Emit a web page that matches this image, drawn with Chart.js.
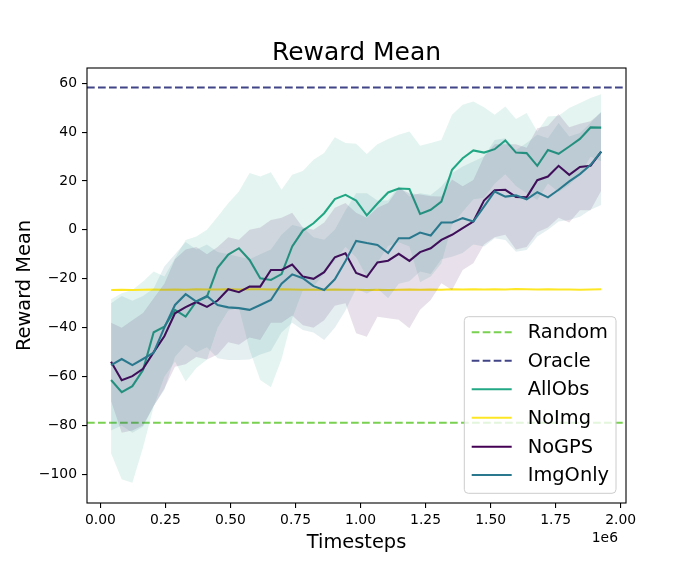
<!DOCTYPE html>
<html><head><meta charset="utf-8">
<script src="https://cdn.jsdelivr.net/npm/chart.js@4.4.1/dist/chart.umd.min.js"></script>
<style>html,body{margin:0;padding:0;background:#fff;}#wrap{width:695px;height:566px;}</style>
</head><body><div id="wrap"><canvas id="c" width="695" height="566"></canvas></div>
<script>
const timesteps = [40960, 81920, 122880, 163840, 204800, 245760, 286720, 327680, 368640, 409600,
  450560, 491520, 532480, 573440, 614400, 655360, 696320, 737280, 778240, 819200,
  860160, 901120, 942080, 983040, 1024000, 1064960, 1105920, 1146880, 1187840, 1228800,
  1269760, 1310720, 1351680, 1392640, 1433600, 1474560, 1515520, 1556480, 1597440, 1638400,
  1679360, 1720320, 1761280, 1802240, 1843200, 1884160, 1925120];

const allObsMean = [-61.4, -66.4, -63.9, -57.3, -41.9, -39.6, -32.7, -35.5, -29.3, -27.3,
  -15.5, -10.1, -7.5, -12.3, -19.8, -20.5, -18.1, -6.8, -0.3, 2.7,
  6.8, 12.6, 14.3, 12.0, 5.9, 10.8, 15.3, 16.9, 16.7, 6.5,
  8.2, 11.6, 24.6, 29.3, 32.5, 31.6, 33.0, 36.6, 31.6, 31.4,
  26.2, 32.7, 31.1, 34.1, 37.2, 41.9, 41.8];
const allObsUpper = [-28.4, -25.9, -24.6, -21.1, -17.0, -19.1, -11.6, -4.1, -2.7, 0.0,
  5.4, 10.9, 15.7, 23.3, 21.8, 23.6, 16.4, 22.5, 24.1, 28.7,
  31.4, 37.9, 35.5, 35.2, 31.0, 35.0, 37.2, 38.9, 40.2, 34.4,
  35.5, 36.8, 47.1, 51.2, 52.5, 50.1, 47.1, 50.5, 45.3, 47.8,
  40.2, 46.4, 46.7, 49.8, 51.9, 53.9, 55.5];
const allObsLower = [-91.4, -102.0, -103.4, -89.0, -72.3, -60.1, -53.8, -62.0, -56.5, -53.0,
  -40.0, -33.0, -32.0, -49.0, -61.4, -64.4, -52.8, -36.1, -24.7, -23.3,
  -17.8, -12.7, -6.9, -11.2, -19.2, -13.4, -6.6, -5.1, -6.8, -21.4,
  -19.1, -13.6, 2.1, 7.4, 12.5, 13.1, 18.9, 22.7, 17.9, 15.0,
  12.2, 19.0, 15.5, 18.4, 22.5, 29.9, 28.1];

const noImgMean = [-24.6, -24.5, -24.6, -24.5, -24.4, -24.5, -24.4, -24.5, -24.3, -24.4,
  -24.4, -24.3, -24.4, -24.3, -24.3, -24.4, -24.3, -24.4, -24.5, -24.4,
  -24.5, -24.4, -24.5, -24.5, -24.6, -24.5, -24.6, -24.5, -24.4, -24.5,
  -24.4, -24.5, -24.3, -24.4, -24.3, -24.4, -24.3, -24.4, -24.2, -24.3,
  -24.4, -24.3, -24.4, -24.4, -24.5, -24.4, -24.3];

const noGpsMean = [-53.9, -61.5, -59.8, -56.8, -50.0, -43.5, -34.1, -31.6, -29.5, -31.5,
  -28.9, -24.3, -25.5, -23.2, -23.2, -16.4, -16.4, -14.2, -19.1, -20.0,
  -17.3, -11.2, -9.6, -17.6, -19.3, -13.3, -12.6, -9.8, -12.7, -9.1,
  -7.5, -4.1, -2.0, 0.7, 3.4, 12.0, 16.2, 16.4, 13.5, 13.3,
  20.3, 21.8, 26.2, 22.5, 25.7, 26.2, 32.0];
const noGpsUpper = [-38, -40, -37, -34, -28, -22, -12, -8, -7, -10,
  -7, -3, -4, 0, 1, 4, 5, 7, 1, 0,
  3, 9, 11, 7, 5, 9, 11, 17, 15, 14.5,
  13.7, 13.6, 20.6, 17.8, 20.4, 30, 35, 35, 35, 33.6,
  41.6, 42.6, 47.4, 42, 43.4, 44.4, 48];
const noGpsLower = [-70, -83, -82, -80, -72, -65, -56, -55, -52, -53,
  -51, -46, -47, -44, -45, -38, -38, -35, -39, -40,
  -37, -31, -30, -42.3, -43.7, -35.5, -36.1, -36.8, -40.2, -32.7,
  -28.7, -21.8, -24.6, -16.4, -13.6, -6, -3, -2, -8, -7,
  -1, 1, 5, 3, 8, 8, 16];

const imgOnlyMean = [-55.3, -52.8, -55.3, -52.8, -50.2, -40.0, -30.7, -26.3, -29.3, -27.0,
  -30.7, -31.7, -32.0, -32.7, -30.7, -28.7, -22.0, -18.2, -19.8, -23.0,
  -24.6, -20.2, -12.7, -4.5, -5.4, -6.2, -9.5, -3.4, -3.4, -1.1,
  -2.3, 3.0, 3.0, 4.8, 3.4, 9.5, 15.7, 13.6, 14.1, 12.5,
  15.4, 13.3, 16.4, 19.8, 22.8, 26.6, 32.0];
const imgOnlyUpper = [-30, -27, -29, -27, -24, -15, -10, -5, -8, -6,
  -9, -10, -11, -12, -10, -8, -2, 2, 1, -3,
  -4, 0, 8, 15, 15, 12, 12, 17.7, 13.6, 15,
  14.3, 17.7, 23.2, 25.9, 28, 30, 36.8, 37.5, 32.7, 35.5,
  38.9, 37.5, 43.7, 38.2, 39.6, 43.7, 48.4];
const imgOnlyLower = [-82, -80, -83, -80.5, -72, -65.5, -51.9, -47, -50, -48,
  -52.5, -53.2, -53.2, -53, -51, -49.5, -42, -38, -40.9, -42,
  -45, -40, -33, -24, -26, -24, -28, -22, -21, -17,
  -18, -12, -11, -9.5, -6, -6.8, -3.4, -4.1, -8.9, -8.2,
  -2.7, 0, 3.4, 4, 5.4, 8.2, 10.2];

const randomLevel = -78.9;
const oracleLevel = 58.2;

const xTickValues = [0, 250000, 500000, 750000, 1000000, 1250000, 1500000, 1750000, 2000000];
const yTickValues = [-100, -80, -60, -40, -20, 0, 20, 40, 60];

const seriesNames = ['Random', 'Oracle', 'AllObs', 'NoImg', 'NoGPS', 'ImgOnly'];
const seriesColors = ['#7ad151', '#414487', '#22a884', '#fde725', '#440154', '#2a788e'];

const X_MIN = -51500, X_MAX = 2020400, Y_MIN = -111.7, Y_MAX = 66.2;
const FONT = 'DejaVu Sans';

function pts(ys) { return timesteps.map((t, i) => ({ x: t, y: ys[i] })); }
function hexA(hex, a) {
  const r = parseInt(hex.slice(1, 3), 16), g = parseInt(hex.slice(3, 5), 16), b = parseInt(hex.slice(5, 7), 16);
  return `rgba(${r},${g},${b},${a})`;
}
const LW = 2.08;
const DASH = [7.7, 3.3];
const BAND_A = 0.12;

const ds = [];
ds.push({ label: 'Random', data: [{ x: X_MIN, y: randomLevel }, { x: X_MAX, y: randomLevel }], borderColor: seriesColors[0], borderWidth: LW, borderDash: DASH, fill: false });
ds.push({ label: 'Oracle', data: [{ x: X_MIN, y: oracleLevel }, { x: X_MAX, y: oracleLevel }], borderColor: seriesColors[1], borderWidth: LW, borderDash: DASH, fill: false });
function addSeries(name, color, mean, lower, upper) {
  ds.push({ label: name, data: pts(mean), borderColor: color, borderWidth: LW, fill: false });
  if (lower) {
    ds.push({ label: '_' + name + 'Lo', data: pts(lower), borderColor: 'rgba(0,0,0,0)', borderWidth: 0, fill: false });
    ds.push({ label: '_' + name + 'Hi', data: pts(upper), borderColor: 'rgba(0,0,0,0)', borderWidth: 0, fill: '-1', backgroundColor: hexA(color, BAND_A) });
  }
}
addSeries('AllObs', seriesColors[2], allObsMean, allObsLower, allObsUpper);
addSeries('NoImg', seriesColors[3], noImgMean, null, null);
addSeries('NoGPS', seriesColors[4], noGpsMean, noGpsLower, noGpsUpper);
addSeries('ImgOnly', seriesColors[5], imgOnlyMean, imgOnlyLower, imgOnlyUpper);
ds.forEach((d, i) => { d.order = ds.length - i; d.pointRadius = 0; d.tension = 0; });

const decor = {
  id: 'decor',
  afterDraw(chart) {
    const ctx = chart.ctx, a = chart.chartArea;
    ctx.save();
    ctx.strokeStyle = '#000'; ctx.lineWidth = 1.1;
    ctx.strokeRect(a.left, a.top, a.right - a.left, a.bottom - a.top);
    ctx.fillStyle = '#000';
    ctx.font = `25px "${FONT}"`; ctx.textAlign = 'center'; ctx.textBaseline = 'alphabetic';
    ctx.fillText('Reward Mean', (a.left + a.right) / 2, 60);
    ctx.font = `19.4px "${FONT}"`;
    ctx.fillText('Timesteps', (a.left + a.right) / 2, 548);
    ctx.save();
    ctx.translate(24.5, (a.top + a.bottom) / 2);
    ctx.rotate(-Math.PI / 2);
    ctx.textBaseline = 'middle';
    ctx.fillText('Reward Mean', 0, 0);
    ctx.restore();
    ctx.font = `13.9px "${FONT}"`; ctx.textAlign = 'right'; ctx.textBaseline = 'alphabetic';
    ctx.fillText('1e6', 618, 542);
    const bx = 464.3, by = 316.7, bw = 616 - 464.3, bh = 493.3 - 316.7, r = 4;
    ctx.beginPath();
    ctx.moveTo(bx + r, by); ctx.lineTo(bx + bw - r, by); ctx.arcTo(bx + bw, by, bx + bw, by + r, r);
    ctx.lineTo(bx + bw, by + bh - r); ctx.arcTo(bx + bw, by + bh, bx + bw - r, by + bh, r);
    ctx.lineTo(bx + r, by + bh); ctx.arcTo(bx, by + bh, bx, by + bh - r, r);
    ctx.lineTo(bx, by + r); ctx.arcTo(bx, by, bx + r, by, r); ctx.closePath();
    ctx.fillStyle = 'rgba(255,255,255,0.8)'; ctx.fill();
    ctx.strokeStyle = '#cccccc'; ctx.lineWidth = 1; ctx.stroke();
    const rows = [332.3, 360.7, 389.3, 417.7, 446.7, 475];
    seriesNames.forEach((n, i) => {
      const y = rows[i];
      ctx.beginPath();
      ctx.strokeStyle = seriesColors[i]; ctx.lineWidth = LW;
      ctx.setLineDash(i < 2 ? DASH : []);
      ctx.moveTo(471.7, y); ctx.lineTo(511.7, y); ctx.stroke();
      ctx.setLineDash([]);
      ctx.fillStyle = '#000'; ctx.font = `19.4px "${FONT}"`;
      ctx.textAlign = 'left'; ctx.textBaseline = 'middle';
      ctx.fillText(n, 527.7, y + 1);
    });
    ctx.restore();
  }
};

const minus = v => (v < 0 ? '\u2212' + Math.abs(v) : String(v));

new Chart(document.getElementById('c'), {
  type: 'line',
  data: { datasets: ds },
  options: {
    responsive: false, animation: false, devicePixelRatio: 1,
    layout: { padding: { left: 0, right: 69, top: 68, bottom: 0 } },
    plugins: { legend: { display: false }, tooltip: { enabled: false }, title: { display: false } },
    elements: { point: { radius: 0 }, line: { tension: 0 } },
    scales: {
      x: {
        type: 'linear', min: X_MIN, max: X_MAX,
        afterBuildTicks: s => { s.ticks = xTickValues.map(v => ({ value: v })); },
        afterFit: s => { s.height = 63; },
        ticks: { callback: v => (v / 1e6).toFixed(2), font: { family: FONT, size: 13.9 }, color: '#000', padding: 4, maxRotation: 0, autoSkip: false },
        grid: { drawOnChartArea: false, color: '#000', tickLength: 5, lineWidth: 1.1 },
        border: { display: false }
      },
      y: {
        type: 'linear', min: Y_MIN, max: Y_MAX,
        afterBuildTicks: s => { s.ticks = yTickValues.map(v => ({ value: v })); },
        afterFit: s => { s.width = 87; },
        ticks: { callback: v => minus(v), font: { family: FONT, size: 13.9 }, color: '#000', padding: 5, autoSkip: false },
        grid: { drawOnChartArea: false, color: '#000', tickLength: 5, lineWidth: 1.1 },
        border: { display: false }
      }
    }
  },
  plugins: [decor]
});
</script></body></html>
